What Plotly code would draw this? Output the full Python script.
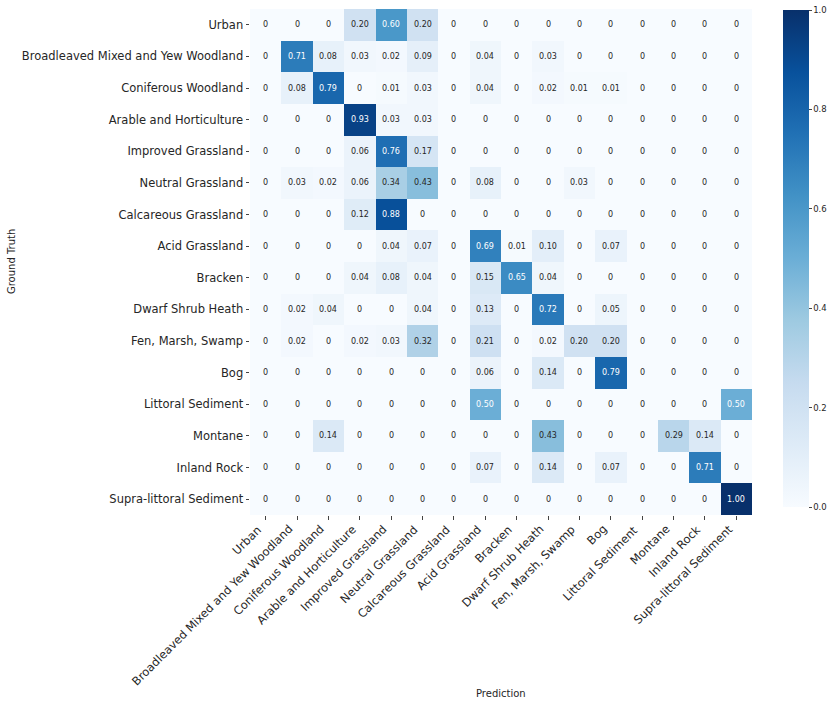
import plotly.graph_objects as go

classes = [
    "Urban", "Broadleaved Mixed and Yew Woodland", "Coniferous Woodland",
    "Arable and Horticulture", "Improved Grassland", "Neutral Grassland",
    "Calcareous Grassland", "Acid Grassland", "Bracken", "Dwarf Shrub Heath",
    "Fen, Marsh, Swamp", "Bog", "Littoral Sediment", "Montane", "Inland Rock",
    "Supra-littoral Sediment",
]

row_urban       = [0, 0, 0, 0.20, 0.60, 0.20, 0, 0, 0, 0, 0, 0, 0, 0, 0, 0]
row_broadleaved = [0, 0.71, 0.08, 0.03, 0.02, 0.09, 0, 0.04, 0, 0.03, 0, 0, 0, 0, 0, 0]
row_coniferous  = [0, 0.08, 0.79, 0, 0.01, 0.03, 0, 0.04, 0, 0.02, 0.01, 0.01, 0, 0, 0, 0]
row_arable      = [0, 0, 0, 0.93, 0.03, 0.03, 0, 0, 0, 0, 0, 0, 0, 0, 0, 0]
row_improved    = [0, 0, 0, 0.06, 0.76, 0.17, 0, 0, 0, 0, 0, 0, 0, 0, 0, 0]
row_neutral     = [0, 0.03, 0.02, 0.06, 0.34, 0.43, 0, 0.08, 0, 0, 0.03, 0, 0, 0, 0, 0]
row_calcareous  = [0, 0, 0, 0.12, 0.88, 0, 0, 0, 0, 0, 0, 0, 0, 0, 0, 0]
row_acid        = [0, 0, 0, 0, 0.04, 0.07, 0, 0.69, 0.01, 0.10, 0, 0.07, 0, 0, 0, 0]
row_bracken     = [0, 0, 0, 0.04, 0.08, 0.04, 0, 0.15, 0.65, 0.04, 0, 0, 0, 0, 0, 0]
row_dwarf       = [0, 0.02, 0.04, 0, 0, 0.04, 0, 0.13, 0, 0.72, 0, 0.05, 0, 0, 0, 0]
row_fen         = [0, 0.02, 0, 0.02, 0.03, 0.32, 0, 0.21, 0, 0.02, 0.20, 0.20, 0, 0, 0, 0]
row_bog         = [0, 0, 0, 0, 0, 0, 0, 0.06, 0, 0.14, 0, 0.79, 0, 0, 0, 0]
row_littoral    = [0, 0, 0, 0, 0, 0, 0, 0.50, 0, 0, 0, 0, 0, 0, 0, 0.50]
row_montane     = [0, 0, 0.14, 0, 0, 0, 0, 0, 0, 0.43, 0, 0, 0, 0.29, 0.14, 0]
row_inland      = [0, 0, 0, 0, 0, 0, 0, 0.07, 0, 0.14, 0, 0.07, 0, 0, 0.71, 0]
row_supra       = [0, 0, 0, 0, 0, 0, 0, 0, 0, 0, 0, 0, 0, 0, 0, 1.00]

matrix = [row_urban, row_broadleaved, row_coniferous, row_arable, row_improved,
          row_neutral, row_calcareous, row_acid, row_bracken, row_dwarf, row_fen,
          row_bog, row_littoral, row_montane, row_inland, row_supra]

colorbar_ticks = [0, 0.2, 0.4, 0.6, 0.8, 1.0]
colorbar_ticktext = ["0.0", "0.2", "0.4", "0.6", "0.8", "1.0"]

blues = ["#f7fbff", "#deebf7", "#c6dbef", "#9ecae1", "#6baed6",
         "#4292c6", "#2171b5", "#08519c", "#08306b"]
colorscale = [[i / (len(blues) - 1), c] for i, c in enumerate(blues)]

FONT = "DejaVu Sans"
TXT = "#262626"
n = len(classes)

fig = go.Figure(go.Heatmap(
    z=matrix, x=classes, y=classes,
    colorscale=colorscale, zmin=0, zmax=1,
    colorbar=dict(
        x=1.0618, xanchor="left", xref="paper", xpad=0, ypad=0,
        y=0.998, yanchor="top",
        lenmode="pixels", len=497, thickness=26,
        outlinewidth=0, ticks="outside", ticklen=3, tickwidth=1,
        tickcolor="#444", tickvals=colorbar_ticks, ticktext=colorbar_ticktext,
        tickfont=dict(family=FONT, size=8.5, color=TXT),
    ),
))

annotations = []
for i, row in enumerate(matrix):
    for j, v in enumerate(row):
        txt = "0" if round(v, 2) == 0 else f"{v:.2f}"
        col = "white" if v >= 0.45 else TXT
        annotations.append(dict(x=classes[j], y=classes[i], text=txt,
                                showarrow=False, xref="x", yref="y",
                                font=dict(family=FONT, size=8, color=col)))

# rotated x tick labels (right/top aligned to the tick, as in matplotlib)
for c in classes:
    annotations.append(dict(x=c, y=0, xref="x", yref="paper", text=c,
                            showarrow=False, textangle=-45,
                            xanchor="right", yanchor="top", xshift=0, yshift=-6,
                            borderpad=0,
                            font=dict(family=FONT, size=11.5, color=TXT)))

annotations.append(dict(text="Prediction", x=0.5, y=-0.352, xref="paper", yref="paper",
                        showarrow=False, xanchor="center", yanchor="middle",
                        font=dict(family=FONT, size=10, color=TXT)))
annotations.append(dict(text="Ground Truth", x=-0.476, y=0.5, xref="paper", yref="paper",
                        showarrow=False, textangle=-90, xanchor="center", yanchor="middle",
                        font=dict(family=FONT, size=10, color=TXT)))

fig.update_layout(
    width=834, height=704,
    margin=dict(l=250, r=82, t=9, b=189, pad=0, autoexpand=False),
    paper_bgcolor="white", plot_bgcolor="white",
    annotations=annotations,
    font=dict(family=FONT, color=TXT),
)
fig.update_xaxes(range=[-0.5, n - 0.5], autorange=False,
                 showticklabels=False, ticks="outside", ticklen=3.5, tickwidth=1, tickcolor="#444",
                 showgrid=False, zeroline=False, automargin=False, showline=False)
fig.update_yaxes(range=[n - 0.5, -0.5], autorange=False,
                 ticks="outside", ticklen=3.5, tickwidth=1, tickcolor="#444",
                 tickfont=dict(family=FONT, size=11.5, color=TXT),
                 showgrid=False, zeroline=False, automargin=False, showline=False)

fig.write_html("out.html")
